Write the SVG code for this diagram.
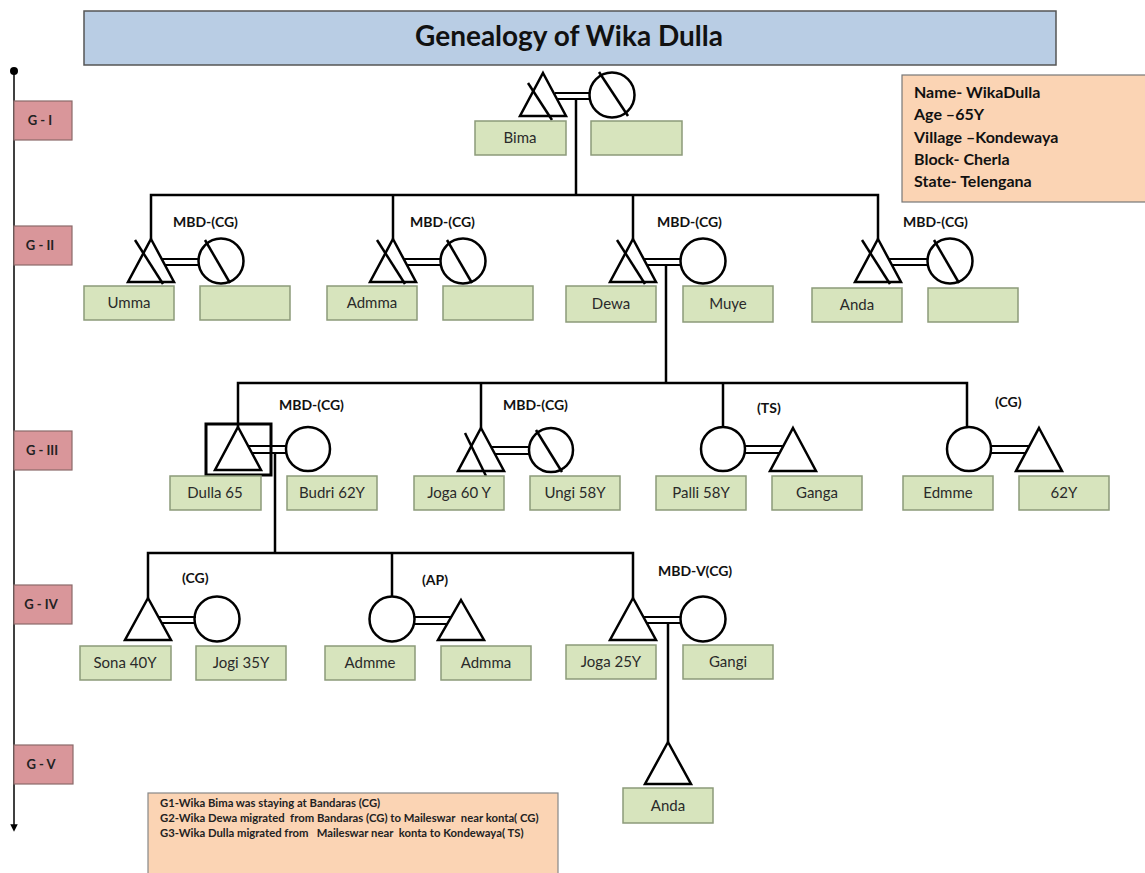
<svg xmlns="http://www.w3.org/2000/svg" width="1145" height="873" viewBox="0 0 1145 873">
<style>
.sym{fill:none;stroke:#000;stroke-width:2.5}
.ln{fill:none;stroke:#000;stroke-width:2.5}
.mar{fill:none;stroke:#000;stroke-width:2}
.nb{fill:#d7e4bd;stroke:#8c9a7a;stroke-width:1.5}
.nt{font-family:Lato,"Liberation Sans",sans-serif;font-size:15px;fill:#2a2a2a;text-anchor:middle}
.lab{font-family:Lato,"Liberation Sans",sans-serif;font-size:14px;font-weight:bold;fill:#111}
.gb{fill:#d9969a;stroke:#8a6a6a;stroke-width:1.2}
.gt{font-family:Lato,"Liberation Sans",sans-serif;font-size:13px;font-weight:bold;fill:#222;text-anchor:middle}
.info{font-family:Lato,"Liberation Sans",sans-serif;font-size:16px;font-weight:bold;fill:#111}
.note{font-family:Lato,"Liberation Sans",sans-serif;font-size:11.3px;font-weight:bold;fill:#222;white-space:pre}
</style>
<defs>
<marker id="arr" viewBox="0 0 10 10" refX="5" refY="5" markerWidth="5" markerHeight="5" orient="auto"><path d="M0,0 L10,5 L0,10 z" fill="#000"/></marker>
</defs>

<g id="title">
<rect x="84" y="11" width="972" height="54" fill="#b9cde4" stroke="#555" stroke-width="1.5"/>
<text x="569" y="46" font-family="Lato,'Liberation Sans',sans-serif" font-size="28" font-weight="bold" fill="#111" text-anchor="middle">Genealogy of Wika Dulla</text>
</g>

<g id="axis">
<circle cx="14" cy="71" r="4" fill="#000"/>
<line x1="14" y1="71" x2="14" y2="828" stroke="#000" stroke-width="1.5" marker-end="url(#arr)"/>
</g>
<g id="gen-labels">
<rect class="gb" x="14" y="101" width="58" height="39"/><text class="gt" x="40" y="125">G - I</text>
<rect class="gb" x="14" y="226" width="58" height="39"/><text class="gt" x="40" y="250">G - II</text>
<rect class="gb" x="14" y="431" width="58" height="39"/><text class="gt" x="42" y="455">G - III</text>
<rect class="gb" x="14" y="585" width="58" height="39"/><text class="gt" x="41" y="609">G - IV</text>
<rect class="gb" x="14" y="745" width="59" height="39"/><text class="gt" x="41" y="769">G - V</text>
</g>

<g id="info">
<rect x="902" y="75" width="250" height="127" fill="#fbd4b4" stroke="#777" stroke-width="1.2"/>
<text class="info" x="914" y="98">Name- WikaDulla</text>
<text class="info" x="914" y="120">Age –65Y</text>
<text class="info" x="914" y="143">Village –Kondewaya</text>
<text class="info" x="914" y="165">Block- Cherla</text>
<text class="info" x="914" y="187">State- Telengana</text>
</g>

<g id="connectors">
<polyline class="ln" points="576,99 576,195"/>
<polyline class="ln" points="151,239 151,195 878,195 878,239"/>
<line class="ln" x1="393" y1="195" x2="393" y2="239"/>
<line class="ln" x1="633" y1="195" x2="633" y2="239"/>
<polyline class="ln" points="666,265 666,383"/>
<polyline class="ln" points="238,427 238,383 967,383 967,427"/>
<line class="ln" x1="481" y1="383" x2="481" y2="428"/>
<line class="ln" x1="723" y1="383" x2="723" y2="427"/>
<polyline class="ln" points="275,453 275,553"/>
<polyline class="ln" points="148,598 148,553 633,553 633,598"/>
<line class="ln" x1="392" y1="553" x2="392" y2="597"/>
<line class="ln" x1="668" y1="623" x2="668" y2="742"/>
</g>

<g id="g1-couple">
<polygon class="sym" points="543,73 566,116 520,116"/>
<line class="sym" x1="528" y1="83" x2="552" y2="120"/>
<line class="mar" x1="555" y1="93" x2="590" y2="93"/>
<line class="mar" x1="558" y1="99" x2="590" y2="99"/>
<circle class="sym" cx="612" cy="95" r="22.5"/>
<line class="sym" x1="599" y1="72" x2="628" y2="116"/>
<rect class="nb" x="475" y="121" width="91" height="34"/><text class="nt" x="520" y="143">Bima</text>
<rect class="nb" x="591" y="121" width="91" height="34"/>
</g>

<g id="umma">
<text class="lab" x="173" y="227">MBD-(CG)</text>
<polygon class="sym" points="151,239 174,282 128,282"/>
<line class="sym" x1="135" y1="240" x2="163" y2="284"/>
<line class="mar" x1="162" y1="259" x2="199" y2="259"/>
<line class="mar" x1="165" y1="265" x2="199" y2="265"/>
<circle class="sym" cx="221" cy="261" r="22.5"/>
<line class="sym" x1="205" y1="240" x2="230" y2="283"/>
<rect class="nb" x="84" y="286" width="90" height="34"/><text class="nt" x="129" y="308">Umma</text>
<rect class="nb" x="200" y="286" width="90" height="34"/>
</g>

<g id="admma">
<text class="lab" x="410" y="227">MBD-(CG)</text>
<polygon class="sym" points="393,239 416,282 370,282"/>
<line class="sym" x1="377" y1="240" x2="405" y2="284"/>
<line class="mar" x1="404" y1="259" x2="441" y2="259"/>
<line class="mar" x1="407" y1="265" x2="441" y2="265"/>
<circle class="sym" cx="463" cy="261" r="22.5"/>
<line class="sym" x1="447" y1="240" x2="472" y2="283"/>
<rect class="nb" x="327" y="286" width="90" height="34"/><text class="nt" x="372" y="308">Admma</text>
<rect class="nb" x="443" y="286" width="90" height="34"/>
</g>

<g id="dewa">
<text class="lab" x="657" y="227">MBD-(CG)</text>
<polygon class="sym" points="633,239 656,282 610,282"/>
<line class="sym" x1="617" y1="240" x2="645" y2="284"/>
<line class="mar" x1="644" y1="259" x2="681" y2="259"/>
<line class="mar" x1="647" y1="265" x2="681" y2="265"/>
<circle class="sym" cx="703" cy="261" r="22.5"/>
<rect class="nb" x="566" y="286" width="90" height="36"/><text class="nt" x="611" y="309">Dewa</text>
<rect class="nb" x="683" y="286" width="90" height="36"/><text class="nt" x="728" y="309">Muye</text>
</g>

<g id="anda-g2">
<text class="lab" x="903" y="227">MBD-(CG)</text>
<polygon class="sym" points="878,239 901,282 855,282"/>
<line class="sym" x1="862" y1="240" x2="890" y2="284"/>
<line class="mar" x1="889" y1="259" x2="928" y2="259"/>
<line class="mar" x1="892" y1="265" x2="928" y2="265"/>
<circle class="sym" cx="950" cy="261" r="22.5"/>
<line class="sym" x1="934" y1="240" x2="959" y2="283"/>
<rect class="nb" x="812" y="288" width="90" height="34"/><text class="nt" x="857" y="310">Anda</text>
<rect class="nb" x="928" y="288" width="90" height="34"/>
</g>

<g id="dulla">
<text class="lab" x="279" y="410">MBD-(CG)</text>
<rect x="206" y="424" width="65" height="51" fill="none" stroke="#000" stroke-width="3"/>
<polygon class="sym" points="238,427 261,470 215,470"/>
<line class="mar" x1="249" y1="446" x2="287" y2="446"/>
<line class="mar" x1="252" y1="453" x2="287" y2="453"/>
<circle class="sym" cx="308" cy="449" r="22"/>
<rect class="nb" x="170" y="476" width="91" height="34"/><text class="nt" x="215" y="498">Dulla 65</text>
<rect class="nb" x="287" y="476" width="90" height="34"/><text class="nt" x="332" y="498">Budri 62Y</text>
</g>

<g id="joga60">
<text class="lab" x="503" y="410">MBD-(CG)</text>
<polygon class="sym" points="481,428 504,471 458,471"/>
<line class="sym" x1="465" y1="433" x2="486" y2="476"/>
<line class="mar" x1="492" y1="447" x2="530" y2="447"/>
<line class="mar" x1="495" y1="454" x2="530" y2="454"/>
<circle class="sym" cx="551" cy="450" r="22"/>
<line class="sym" x1="536" y1="430" x2="562" y2="472"/>
<rect class="nb" x="414" y="476" width="90" height="34"/><text class="nt" x="459" y="498">Joga 60 Y</text>
<rect class="nb" x="530" y="476" width="90" height="34"/><text class="nt" x="575" y="498">Ungi 58Y</text>
</g>

<g id="palli">
<text class="lab" x="757" y="413">(TS)</text>
<circle class="sym" cx="723" cy="449" r="22"/>
<line class="mar" x1="745" y1="446" x2="783" y2="446"/>
<line class="mar" x1="745" y1="453" x2="780" y2="453"/>
<polygon class="sym" points="793,428 816,471 770,471"/>
<rect class="nb" x="656" y="476" width="90" height="34"/><text class="nt" x="701" y="498">Palli 58Y</text>
<rect class="nb" x="772" y="476" width="90" height="34"/><text class="nt" x="817" y="498">Ganga</text>
</g>

<g id="edmme">
<text class="lab" x="995" y="407">(CG)</text>
<circle class="sym" cx="969" cy="449" r="22"/>
<line class="mar" x1="991" y1="446" x2="1029" y2="446"/>
<line class="mar" x1="991" y1="453" x2="1026" y2="453"/>
<polygon class="sym" points="1039,428 1062,471 1016,471"/>
<rect class="nb" x="903" y="476" width="90" height="34"/><text class="nt" x="948" y="498">Edmme</text>
<rect class="nb" x="1019" y="476" width="90" height="34"/><text class="nt" x="1064" y="498">62Y</text>
</g>

<g id="sona">
<text class="lab" x="182" y="583">(CG)</text>
<polygon class="sym" points="148,598 171,640 125,640"/>
<line class="mar" x1="159" y1="617" x2="196" y2="617"/>
<line class="mar" x1="162" y1="623" x2="196" y2="623"/>
<circle class="sym" cx="217" cy="619" r="22.5"/>
<rect class="nb" x="80" y="646" width="91" height="34"/><text class="nt" x="125" y="668">Sona 40Y</text>
<rect class="nb" x="196" y="646" width="90" height="34"/><text class="nt" x="241" y="668">Jogi 35Y</text>
</g>

<g id="admme">
<text class="lab" x="422" y="585">(AP)</text>
<circle class="sym" cx="392" cy="619" r="22.5"/>
<line class="mar" x1="414" y1="617" x2="451" y2="617"/>
<line class="mar" x1="414" y1="624" x2="448" y2="624"/>
<polygon class="sym" points="461,600 484,640 438,640"/>
<rect class="nb" x="325" y="646" width="90" height="34"/><text class="nt" x="370" y="668">Admme</text>
<rect class="nb" x="441" y="646" width="90" height="34"/><text class="nt" x="486" y="668">Admma</text>
</g>

<g id="joga25">
<text class="lab" x="658" y="576">MBD-V(CG)</text>
<polygon class="sym" points="633,598 656,640 610,640"/>
<line class="mar" x1="644" y1="617" x2="681" y2="617"/>
<line class="mar" x1="647" y1="623" x2="681" y2="623"/>
<circle class="sym" cx="703" cy="619" r="22.5"/>
<rect class="nb" x="566" y="645" width="90" height="34"/><text class="nt" x="611" y="667">Joga 25Y</text>
<rect class="nb" x="683" y="645" width="90" height="34"/><text class="nt" x="728" y="667">Gangi</text>
</g>

<g id="anda-g5">
<polygon class="sym" points="668,742 691,784 645,784"/>
<rect class="nb" x="623" y="788" width="90" height="35"/><text class="nt" x="668" y="811">Anda</text>
</g>

<g id="note">
<rect x="148" y="793" width="410" height="85" fill="#fbd4b4" stroke="#888" stroke-width="1.2"/>
<text class="note" x="160" y="807">G1-Wika Bima was staying at Bandaras (CG)</text>
<text class="note" x="160" y="822">G2-Wika Dewa migrated  from Bandaras (CG) to Maileswar  near konta( CG)</text>
<text class="note" x="160" y="837">G3-Wika Dulla migrated from   Maileswar near  konta to Kondewaya( TS)</text>
</g>
</svg>
